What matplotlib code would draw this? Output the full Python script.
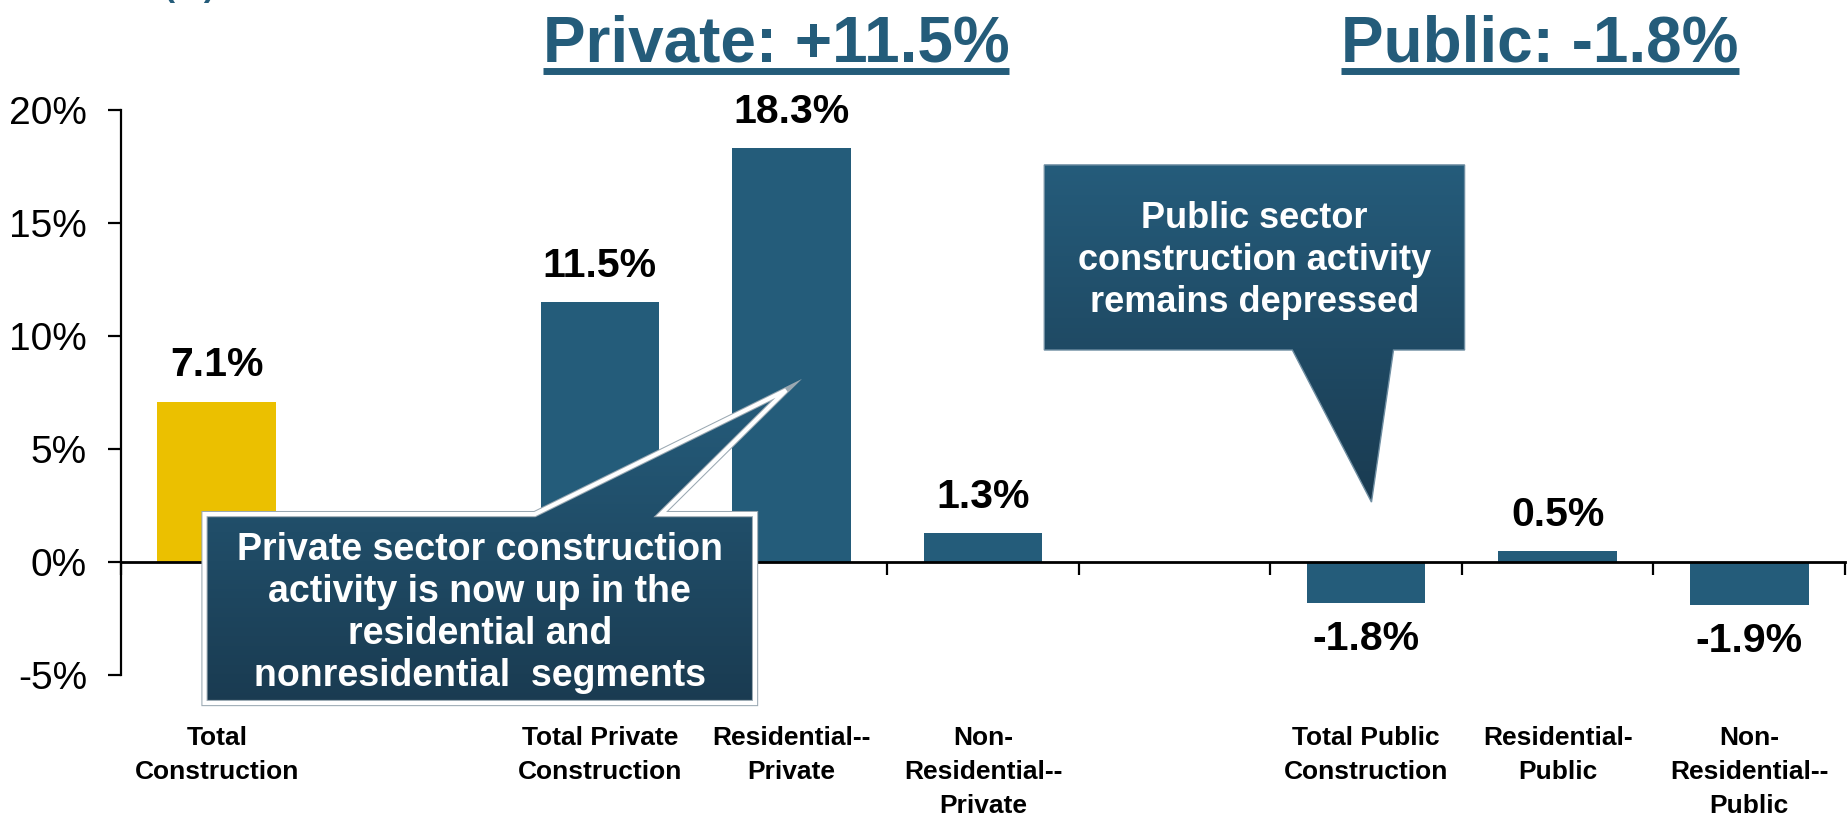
import numpy as np
import matplotlib
matplotlib.use("Agg")
import matplotlib.pyplot as plt
from matplotlib.patches import Polygon
from matplotlib.colors import LinearSegmentedColormap
from matplotlib.lines import Line2D
from matplotlib.ticker import FixedLocator, FuncFormatter

plt.rcParams['font.family'] = ['Liberation Sans', 'DejaVu Sans']

# ---- data ----
group_total_labels = ["Total\nConstruction"]
group_total_values = [7.1]
group_private_labels = ["Total Private\nConstruction", "Residential--\nPrivate", "Non-\nResidential--\nPrivate"]
group_private_values = [11.5, 18.3, 1.3]
group_public_labels = ["Total Public\nConstruction", "Residential-\nPublic", "Non-\nResidential--\nPublic"]
group_public_values = [-1.8, 0.5, -1.9]
value_labels_total = ["7.1%"]
value_labels_private = ["11.5%", "18.3%", "1.3%"]
value_labels_public = ["-1.8%", "0.5%", "-1.9%"]
y_ticks = [-5, 0, 5, 10, 15, 20]
title_private = "Private: +11.5%"
title_public = "Public: -1.8%"
note_private = "Private sector construction\nactivity is now up in the\nresidential and\nnonresidential  segments"
note_public = "Public sector\nconstruction activity\nremains depressed"

BLUE = "#245C7A"
YELLOW = "#EBC000"
GRAD_TOP = "#255C7B"
GRAD_BOT = "#1A3B51"

W, H = 1847, 814
fig = plt.figure(figsize=(W / 100, H / 100), dpi=100)
ax = fig.add_axes([121 / W, 139 / H, (1845 - 121) / W, (675 - 110) / H])

# positions: groups separated by an empty slot
groups = [
    (group_total_labels, group_total_values, value_labels_total, YELLOW),
    (group_private_labels, group_private_values, value_labels_private, BLUE),
    (group_public_labels, group_public_values, value_labels_public, BLUE),
]
pos = 0
all_pos, all_labels = [], []
for labels, values, vlabels, color in groups:
    xs = np.arange(pos, pos + len(values))
    bars = ax.bar(xs, values, width=0.62, color=color, zorder=2)
    for b, v, t in zip(bars, values, vlabels):
        x = b.get_x() + b.get_width() / 2
        ax.annotate(t, (x, v), xytext=(0, 26 if v >= 0 else -26), textcoords="offset points",
                    ha="center", va="center", fontsize=29.5, fontweight="bold", color="black",
                    zorder=5)
    all_pos.extend(xs)
    all_labels.extend(labels)
    pos += len(values) + 1

nslots = pos - 1
ax.set_xlim(-0.5, nslots - 0.5)
ax.set_ylim(-5, 20)

# spines
for s in ["top", "right"]:
    ax.spines[s].set_visible(False)
ax.spines["left"].set_linewidth(1.6)
ax.spines["bottom"].set_position(("data", 0))
ax.spines["bottom"].set_linewidth(2.0)
ax.spines["bottom"].set_zorder(3)

ax.yaxis.set_major_locator(FixedLocator(y_ticks))
ax.yaxis.set_major_formatter(FuncFormatter(lambda v, p: f"{int(v)}%"))
ax.tick_params(axis="y", direction="out", length=9.5, width=1.6, pad=15, labelsize=28)

ax.set_xticks(all_pos)
ax.set_xticklabels(all_labels, fontsize=19, fontweight="bold", linespacing=1.52)
ax.set_xticks(np.arange(-0.5, nslots), minor=True)
ax.tick_params(axis="x", which="major", length=0, pad=118)
ax.tick_params(axis="x", which="minor", direction="out", length=9, width=1.6)


def callout(verts, edges, z):
    xs, ys = zip(*verts)
    for ec, lw in edges:
        p = Polygon(verts, closed=True, facecolor="none", edgecolor=ec, lw=lw,
                    zorder=z + 0.1, clip_on=False, joinstyle="miter")
        ax.add_patch(p)
    clip = Polygon(verts, closed=True, facecolor="none", edgecolor="none", clip_on=False)
    ax.add_patch(clip)
    cmap = LinearSegmentedColormap.from_list("g", [GRAD_TOP, GRAD_BOT])
    grad = np.linspace(0, 1, 256)[:, None]
    im = ax.imshow(grad, extent=[min(xs), max(xs), min(ys), max(ys)], origin="upper",
                   cmap=cmap, aspect="auto", zorder=z, interpolation="bilinear")
    im.set_clip_box(fig.bbox)
    im.set_clip_path(clip)


# private callout (box with pointer on top edge)
px0, px1, py_top, py_bot = -0.064, 2.810, 2.12, -6.24
pb0, pb1, ptx, pty = 1.66, 2.319, 2.972, 7.6
callout([(px0, py_top), (pb0, py_top), (ptx, pty), (pb1, py_top), (px1, py_top),
         (px1, py_bot), (px0, py_bot)], [("#9aa8b2", 4.5), ("white", 3.0)], 6)
ax.text((px0 + px1) / 2, (py_top + py_bot) / 2 - 0.2, note_private, ha="center", va="center",
        fontsize=27, fontweight="bold", color="white", linespacing=1.21, zorder=8)

# public callout (box with pointer on bottom edge)
qx0, qx1, qy_top, qy_bot = 4.320, 6.514, 17.57, 9.38
qb0, qb1, qtx, qty = 5.615, 6.143, 6.028, 2.65
callout([(qx0, qy_top), (qx1, qy_top), (qx1, qy_bot), (qb1, qy_bot), (qtx, qty),
         (qb0, qy_bot), (qx0, qy_bot)], [("#6f8ea2", 1.0)], 6)
ax.text((qx0 + qx1) / 2, (qy_top + qy_bot) / 2 - 0.15, note_public, ha="center", va="center",
        fontsize=26, fontweight="bold", color="white", linespacing=1.26, zorder=8)

# titles with underline
fig.canvas.draw()
renderer = fig.canvas.get_renderer()
for txt, cx in [(title_private, 776), (title_public, 1540)]:
    t = fig.text(cx / W, 1 - 61 / H, txt, ha="center", va="baseline", fontsize=46,
                 fontweight="bold", color=BLUE)
    bb = t.get_window_extent(renderer=renderer)
    fig.add_artist(Line2D([bb.x0 / W, bb.x1 / W], [1 - 71 / H, 1 - 71 / H],
                          color=BLUE, lw=5, transform=fig.transFigure, solid_capstyle="butt"))

# cut-off unit label at the very top
fig.text(189 / W, 1 + 4 / H, "(%)", ha="center", va="baseline", fontsize=24,
         fontweight="bold", color=BLUE)

fig.savefig("out.png", dpi=100)
